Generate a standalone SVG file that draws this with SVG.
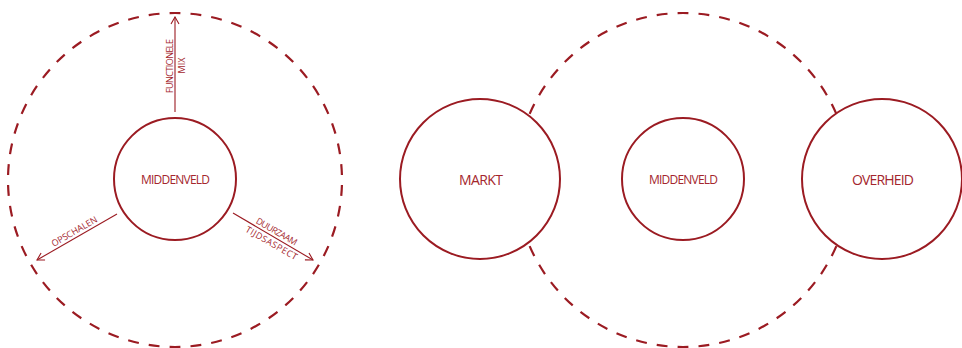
<svg xmlns="http://www.w3.org/2000/svg" width="962" height="348" viewBox="0 0 962 348">
  <defs>
    <marker id="arr" viewBox="0 0 10 10" refX="9" refY="5" markerWidth="10" markerHeight="10" markerUnits="userSpaceOnUse" orient="auto">
      <path d="M2,1 L9,5 L2,9" fill="none" stroke="#9b1b22" stroke-width="1.1"/>
    </marker>
  </defs>
  <style>
    .ring { fill: none; stroke: #9b1b22; stroke-width: 2.2; stroke-dasharray: 0.52 0.48; stroke-dashoffset: 0.76; }
    .node { fill: #ffffff; stroke: #9b1b22; stroke-width: 2; }
    .lbl { font-family: "Open Sans", "Liberation Sans", sans-serif; fill: #a4262d; text-anchor: middle; }
    .big { font-size: 14px; }
    .mid { font-size: 12px; }
    .small { font-size: 9px; }
    .conn { fill: none; stroke: #9b1b22; stroke-width: 1.1; marker-end: url(#arr); }
  </style>
  <rect width="962" height="348" fill="#ffffff"/>

  <g id="rings">
    <circle class="ring" cx="175" cy="180" r="167" pathLength="50"/>
    <circle class="ring" cx="683" cy="180" r="167" pathLength="50"/>
  </g>

  <g id="connectors">
    <line class="conn" x1="175" y1="112" x2="175" y2="17"/>
    <line class="conn" x1="117" y1="214" x2="37" y2="260"/>
    <line class="conn" x1="233" y1="213" x2="313" y2="260"/>
    <g transform="translate(0,0)">
      <text class="lbl small" transform="translate(173,66) rotate(-90)" textLength="54">FUNCTIONELE</text>
      <text class="lbl small" transform="translate(185,65.5) rotate(-90)">MIX</text>
      <text class="lbl small" transform="translate(77,237) rotate(-30)" x="0.5" y="-3" textLength="51">OPSCHALEN</text>
      <text class="lbl small" transform="translate(273,236.5) rotate(30)" x="0.7" y="-3" textLength="46">DUURZAAM</text>
      <text class="lbl small" transform="translate(273,236.5) rotate(30)" x="2" y="9.5" textLength="58">TIJDSASPECT</text>
    </g>
  </g>

  <g id="middenveld-left">
    <circle class="node" cx="175" cy="179" r="61"/>
    <text class="lbl mid" x="175.5" y="184" textLength="69">MIDDENVELD</text>
  </g>

  <g id="markt">
    <circle class="node" cx="480" cy="179" r="80"/>
    <text class="lbl big" x="481" y="185" textLength="44">MARKT</text>
  </g>

  <g id="middenveld-right">
    <circle class="node" cx="683" cy="179" r="61"/>
    <text class="lbl mid" x="683.5" y="184" textLength="69">MIDDENVELD</text>
  </g>

  <g id="overheid">
    <circle class="node" cx="882" cy="179" r="80"/>
    <text class="lbl big" x="883" y="185" textLength="62">OVERHEID</text>
  </g>
</svg>
